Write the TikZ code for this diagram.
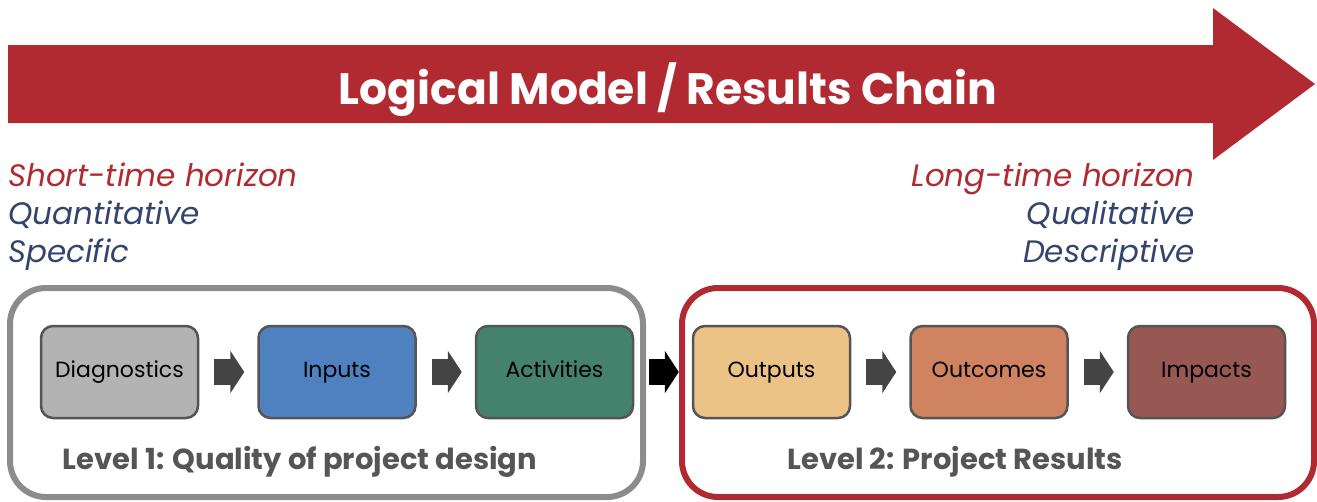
\documentclass[tikz,border=0pt]{standalone}
\usepackage{fontspec}
\setmainfont{Poppins}
\usetikzlibrary{arrows.meta,calc}
\definecolor{chainred}{HTML}{B22A31}
\definecolor{navy}{HTML}{33456E}
\definecolor{grayframe}{HTML}{8C8C8C}
\definecolor{boxedge}{HTML}{555555}
\definecolor{darkarrow}{HTML}{444444}
\definecolor{levelgray}{HTML}{555555}
\definecolor{cDiag}{HTML}{B3B3B3}
\definecolor{cInp}{HTML}{4F81C0}
\definecolor{cAct}{HTML}{44826E}
\definecolor{cOutp}{HTML}{ECC387}
\definecolor{cOutc}{HTML}{CF8360}
\definecolor{cImp}{HTML}{975853}
\tikzset{
  stepbox/.style={draw=boxedge, line width=2.5pt, rounded corners=12pt,
    minimum width=157pt, minimum height=92pt, inner sep=0pt,
    text height=16pt, text depth=5pt,
    font=\fontsize{22}{26}\selectfont, text=black},
  flowarrow/.style={line width=26pt, draw=darkarrow,
    -{Triangle[length=14pt,width=42pt]}, shorten <=15pt, shorten >=13pt},
  sidetext/.style={font=\fontsize{31}{36}\selectfont\itshape, inner sep=0pt},
  leveltext/.style={font=\fontsize{29}{34}\selectfont\bfseries, text=levelgray, inner sep=0pt},
  frame/.style={line width=6pt, rounded corners=36pt}
}
\begin{document}
\begin{tikzpicture}[x=1pt,y=-1pt]
\useasboundingbox (0,0) rectangle (1317,501);
% big arrow
\fill[chainred] (8,45) -- (1213,45) -- (1213,8) -- (1315,84) -- (1213,160) -- (1213,123) -- (8,123) -- cycle;
\node[text=white, font=\fontsize{44}{52}\selectfont\bfseries, anchor=base] (title) at (668,104) {Logical Model / Results Chain};
% side texts
\node[sidetext, text=chainred, anchor=base west] (st) at (8,186) {Short-time horizon};
\node[sidetext, text=navy, anchor=base west] (qt) at (8,224) {Quantitative};
\node[sidetext, text=navy, anchor=base west] (sp) at (8,262) {Specific};
\node[sidetext, text=chainred, anchor=base east] (lt) at (1195,186) {Long-time horizon};
\node[sidetext, text=navy, anchor=base east] (ql) at (1195,224) {Qualitative};
\node[sidetext, text=navy, anchor=base east] (de) at (1195,262) {Descriptive};
% frames
\draw[frame, draw=grayframe] (10,288) rectangle (643,497);
\draw[frame, draw=chainred] (682,288) rectangle (1314,497);
% step boxes
\node[stepbox, fill=cDiag] (diag) at (119.5,372) {Diagnostics};
\node[stepbox, fill=cInp] (inp) at (337,372) {Inputs};
\node[stepbox, fill=cAct] (act) at (554.5,372) {Activities};
\node[stepbox, fill=cOutp] (outp) at (771.5,372) {Outputs};
\node[stepbox, fill=cOutc] (outc) at (989,372) {Outcomes};
\node[stepbox, fill=cImp] (imp) at (1206.5,372) {Impacts};
% arrows
\draw[flowarrow] (diag.east) -- (inp.west);
\draw[flowarrow] (inp.east) -- (act.west);
\draw[flowarrow, draw=black] (act.east) -- (outp.west);
\draw[flowarrow] (outp.east) -- (outc.west);
\draw[flowarrow] (outc.east) -- (imp.west);
% level labels
\node[leveltext, anchor=base] (l1) at (300,469) {Level 1: Quality of project design};
\node[leveltext, anchor=base] (l2) at (955,469) {Level 2: Project Results};
\end{tikzpicture}
\end{document}
